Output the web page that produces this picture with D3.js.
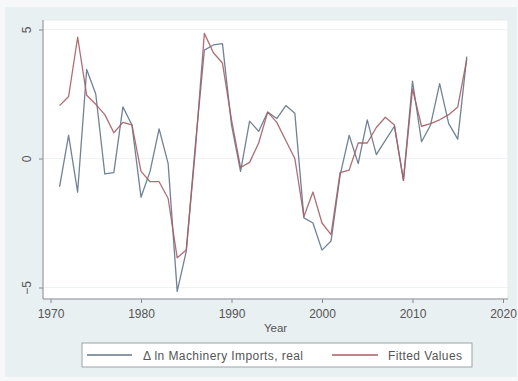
<!DOCTYPE html>
<html><head><meta charset="utf-8">
<script src="https://cdn.jsdelivr.net/npm/d3@7"></script>
<style>body{margin:0;background:#f6f8f9;} svg{display:block;}</style>
</head><body>
<svg id="c" width="518" height="381"></svg>
<script>
const years = d3.range(1971, 2017);
const actual = [-1.1, 0.9, -1.3, 3.45, 2.5, -0.6, -0.55, 2.0, 1.3, -1.5,
  -0.5, 1.15, -0.2, -5.15, -3.6, 0.5, 4.2, 4.4, 4.45, 1.3,
  -0.5, 1.45, 1.05, 1.8, 1.55, 2.05, 1.75, -2.3, -2.5, -3.55,
  -3.2, -0.65, 0.9, -0.2, 1.5, 0.15, 0.7, 1.25, -0.85, 3.0,
  0.65, 1.3, 2.9, 1.35, 0.75, 3.95];
const fitted = [2.05, 2.4, 4.7, 2.45, 2.1, 1.7, 1.0, 1.4, 1.3, -0.5,
  -0.9, -0.9, -1.55, -3.85, -3.55, 0.3, 4.85, 4.1, 3.7, 1.5,
  -0.35, -0.15, 0.6, 1.8, 1.4, 0.7, 0.0, -2.25, -1.3, -2.5,
  -2.95, -0.55, -0.45, 0.6, 0.6, 1.2, 1.6, 1.3, -0.85, 2.7,
  1.25, 1.35, 1.5, 1.7, 2.0, 3.85];
const xTicks = [1970, 1980, 1990, 2000, 2010, 2020];
const yTicks = [-5, 0, 5];
const seriesNames = ["\u0394 ln Machinery Imports, real", "Fitted Values"];
const seriesColors = ["#62748a", "#a65e64"];

const svg = d3.select("#c");
const font = "'Liberation Sans', Arial, sans-serif";
const txt = "#555";
// graph region
svg.append("rect").attr("x", 5).attr("y", 7).attr("width", 512).attr("height", 370).attr("fill", "#e9f0f2");
// plot region
const P = {l: 43, r: 508, t: 20, b: 299};
svg.append("rect").attr("x", P.l).attr("y", P.t).attr("width", P.r - P.l).attr("height", P.b - P.t)
  .attr("fill", "#ffffff").attr("stroke", "#e3eaec").attr("stroke-width", 1);

const x = d3.scaleLinear().domain([1970, 2020]).range([50.5, 503]);
const y = d3.scaleLinear().domain([-5, 5]).range([287.5, 29.5]);

// gridlines
svg.append("g").selectAll("line").data(yTicks).join("line")
  .attr("x1", P.l).attr("x2", P.r).attr("y1", d => y(d)).attr("y2", d => y(d))
  .attr("stroke", "#eef2f3").attr("stroke-width", 1);

// axes
const xAxis = svg.append("g").attr("transform", `translate(0,${P.b})`)
  .call(d3.axisBottom(x).tickValues(xTicks).tickFormat(d3.format("d")).tickSize(4).tickPadding(6));
const yAxis = svg.append("g").attr("transform", `translate(${P.l},0)`)
  .call(d3.axisLeft(y).tickValues(yTicks).tickSize(4).tickPadding(4));
[xAxis, yAxis].forEach(g => {
  g.select(".domain").remove();
  g.selectAll(".tick line").attr("stroke", "#888");
  g.selectAll(".tick text").attr("fill", txt).style("font-family", font).style("font-size", "12px");
});
yAxis.selectAll(".tick text").attr("transform", "rotate(-90)").attr("x", 0).attr("y", -12)
  .attr("dy", "0").attr("text-anchor", "middle");
svg.append("line").attr("x1", P.l).attr("x2", P.l).attr("y1", P.t).attr("y2", P.b).attr("stroke", "#8a8f93");
svg.append("line").attr("x1", P.l).attr("x2", P.r).attr("y1", P.b).attr("y2", P.b).attr("stroke", "#8a8f93");

svg.append("text").attr("x", (P.l + P.r) / 2).attr("y", 332).attr("text-anchor", "middle")
  .attr("fill", txt).style("font-family", font).style("font-size", "11.5px").text("Year");

// lines
const line = d3.line().x(d => x(d[0])).y(d => y(d[1]));
[actual, fitted].forEach((vals, i) => {
  svg.append("path").datum(years.map((yr, j) => [yr, vals[j]]))
    .attr("d", line).attr("fill", "none").attr("stroke", seriesColors[i])
    .attr("stroke-width", 1.3).attr("stroke-linejoin", "round").attr("opacity", 0.9);
});

// legend
const lg = svg.append("g");
lg.append("rect").attr("x", 82).attr("y", 343).attr("width", 390).attr("height", 24)
  .attr("fill", "#ffffff").attr("stroke", "#9aa3a8").attr("stroke-width", 1);
const items = [{x0: 87, x1: 132, tx: 143}, {x0: 332, x1: 378, tx: 388}];
items.forEach((it, i) => {
  lg.append("line").attr("x1", it.x0).attr("x2", it.x1).attr("y1", 355).attr("y2", 355)
    .attr("stroke", seriesColors[i]).attr("stroke-width", 1.3);
  lg.append("text").attr("x", it.tx).attr("y", 359.5).attr("fill", txt)
    .style("font-family", font).style("font-size", "12px").attr("textLength", i === 0 ? 160 : 74)
    .attr("lengthAdjust", "spacing").text(seriesNames[i]);
});
</script>
</body></html>
